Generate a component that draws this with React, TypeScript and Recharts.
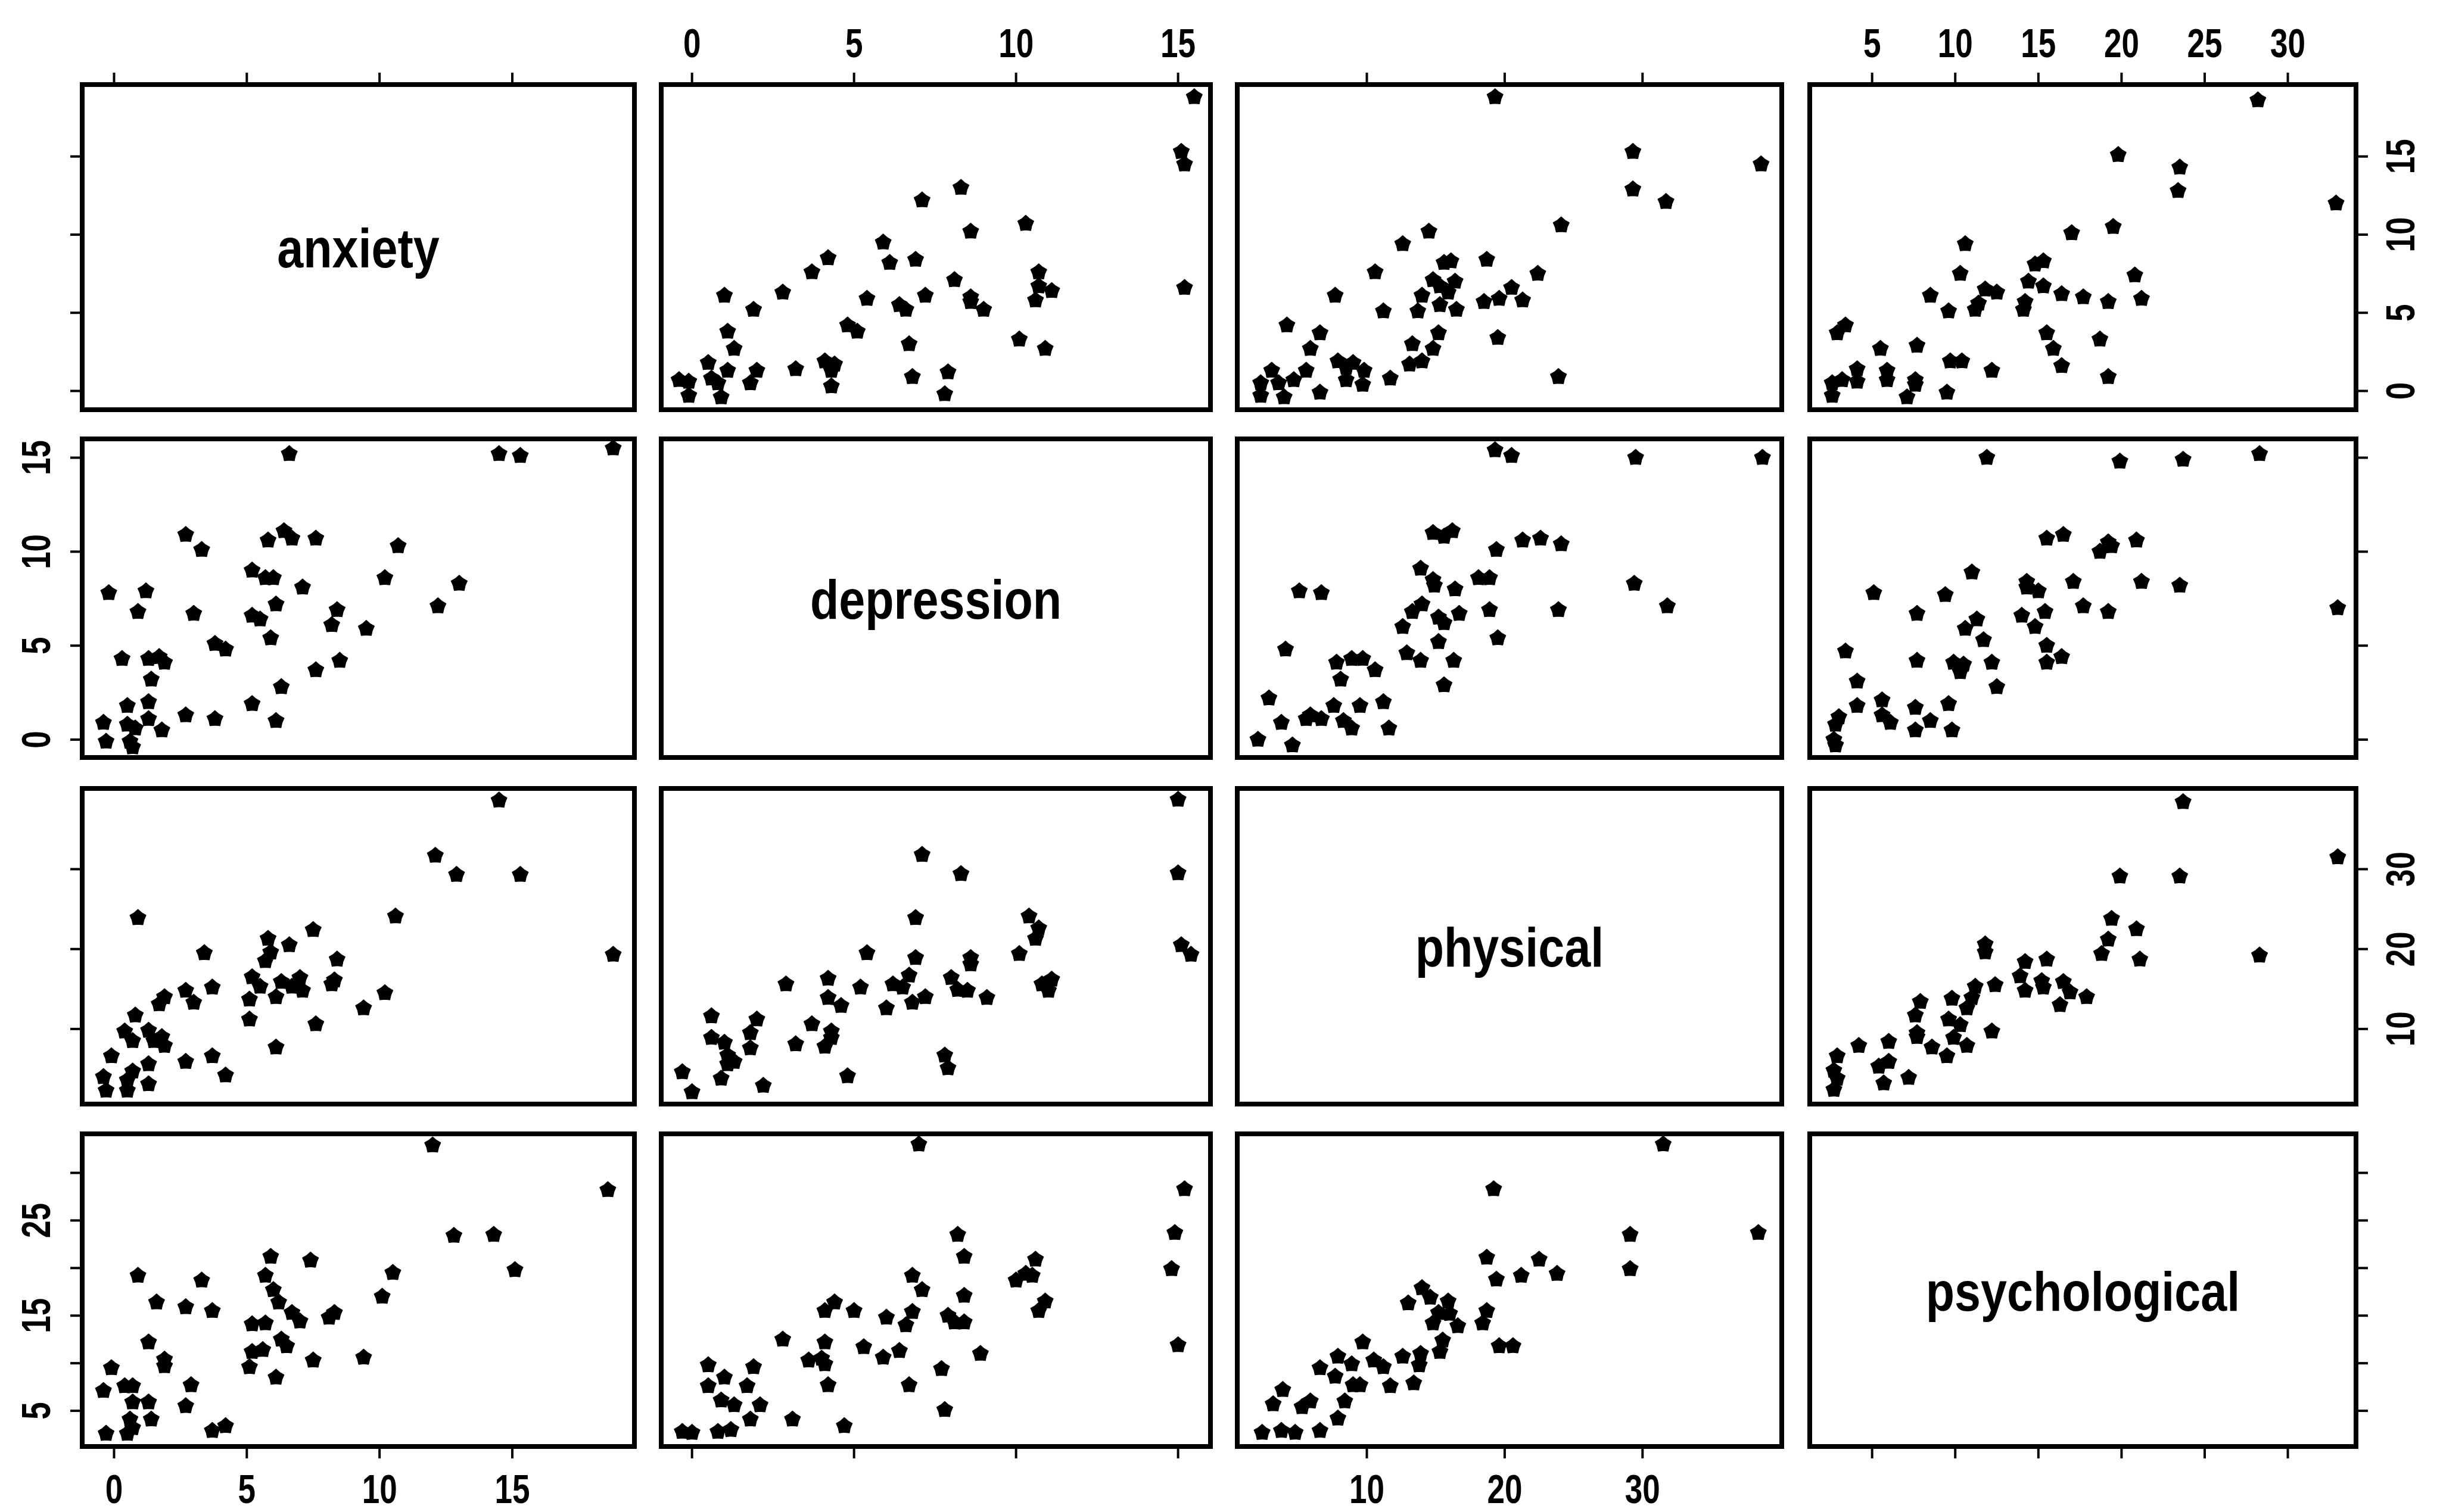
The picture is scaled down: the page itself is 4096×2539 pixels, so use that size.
import { ScatterChart, Scatter, XAxis, YAxis, ReferenceArea } from "recharts";

// variable order: anxiety, depression, physical, psychological
const variableNames = ["anxiety", "depression", "physical", "psychological"];
const axisDomains: [number, number][] = [
  [-1.2, 19.6],
  [-0.95, 16.0],
  [0.6, 40.1],
  [1.25, 34.1],
];
const axisTicks = [
  [0, 5, 10, 15],
  [0, 5, 10, 15],
  [10, 20, 30],
  [5, 10, 15, 20, 25, 30],
];

// which tick values get a printed label on each outer side (indexed by column / row)
const topTickLabels = [[], [0, 5, 10, 15], [], [5, 10, 15, 20, 25, 30]];
const bottomTickLabels = [[0, 5, 10, 15], [], [10, 20, 30], []];
const leftTickLabels = [[], [0, 5, 10, 15], [], [5, 15, 25]];
const rightTickLabels = [[0, 5, 10, 15], [], [10, 20, 30], []];

// [anxiety, depression]
const anxietyDepression: [number, number][] = [
  [6.6, 15.2], [14.5, 15.2], [15.3, 15.1], [18.8, 15.5], [2.7, 10.9], [3.3, 10.1],
  [6.4, 11.1], [6.7, 10.7], [5.8, 10.6], [7.6, 10.7], [10.7, 10.3], [5.2, 9.0],
  [5.7, 8.6], [6.0, 8.6], [7.1, 8.1], [10.2, 8.6], [13.0, 8.3], [-0.2, 7.8],
  [1.2, 7.9], [0.9, 6.8], [3.0, 6.7], [6.1, 7.2], [5.2, 6.6], [5.5, 6.4],
  [8.4, 6.9], [8.2, 6.1], [9.5, 5.9], [12.2, 7.1], [5.9, 5.4], [3.8, 5.1],
  [4.2, 4.8], [0.3, 4.3], [1.3, 4.3], [1.7, 4.4], [1.9, 4.1], [7.6, 3.7],
  [8.5, 4.2], [1.4, 3.2], [6.3, 2.8], [1.3, 2.0], [0.5, 1.8], [5.2, 1.9],
  [2.7, 1.3], [3.8, 1.1], [6.1, 1.0], [1.3, 1.1], [-0.4, 0.9], [0.5, 0.8],
  [0.8, 0.6], [1.8, 0.5], [-0.3, -0.1], [0.6, -0.1], [0.7, -0.4],
];

// [anxiety, physical]
const anxietyPhysical: [number, number][] = [
  [14.5, 38.6], [12.1, 31.7], [12.9, 29.3], [15.3, 29.3], [0.9, 23.9], [10.6, 24.1],
  [7.5, 22.4], [5.8, 21.3], [6.6, 20.5], [3.4, 19.5], [5.9, 19.6], [5.7, 18.5],
  [18.8, 19.3], [8.4, 18.7], [5.2, 16.5], [5.5, 15.3], [6.3, 15.9], [7.0, 16.4],
  [6.7, 15.3], [7.1, 14.8], [8.3, 16.1], [8.2, 15.6], [3.7, 15.2], [2.7, 14.8],
  [3.0, 13.3], [1.9, 14.0], [1.7, 13.1], [5.1, 13.7], [6.1, 14.0], [10.2, 14.5],
  [9.4, 12.6], [5.1, 11.2], [7.6, 10.6], [0.8, 11.7], [0.4, 9.7], [0.7, 8.5],
  [1.3, 9.8], [1.5, 8.5], [1.8, 9.0], [1.9, 7.9], [6.1, 7.7], [-0.1, 6.6],
  [2.7, 5.9], [3.7, 6.6], [1.3, 5.6], [0.7, 4.7], [4.2, 4.2], [-0.4, 4.0],
  [1.3, 3.1], [-0.3, 2.3], [0.5, 2.3], [0.5, 3.6],
];

// [anxiety, psychological]
const anxietyPsychological: [number, number][] = [
  [12.0, 32.9], [18.6, 28.2], [12.8, 23.4], [14.3, 23.5], [15.1, 19.8], [10.5, 19.5],
  [5.9, 21.2], [7.4, 20.8], [5.7, 19.2], [0.9, 19.2], [3.3, 18.7], [6.0, 17.7],
  [6.2, 16.4], [10.1, 17.0], [1.6, 16.4], [2.7, 15.9], [3.7, 15.5], [6.7, 15.3],
  [7.0, 14.4], [8.3, 15.3], [8.1, 14.8], [5.2, 14.1], [5.7, 14.2], [1.3, 12.2],
  [6.3, 12.5], [6.5, 11.8], [5.2, 11.2], [5.6, 11.4], [1.9, 10.4], [1.9, 9.7],
  [7.5, 10.3], [9.4, 10.6], [5.1, 9.6], [-0.1, 9.5], [6.1, 8.5], [0.4, 7.6],
  [0.7, 7.6], [-0.4, 7.1], [2.9, 7.7], [0.7, 5.9], [1.3, 5.9], [2.7, 5.5],
  [1.4, 4.1], [0.6, 4.1], [4.2, 3.4], [3.7, 2.9], [-0.3, 2.6], [0.5, 2.6], [0.7, 3.2],
];

// [depression, physical]
const depressionPhysical: [number, number][] = [
  [15.0, 38.7], [7.1, 31.8], [8.3, 29.4], [15.0, 29.5], [6.9, 23.9], [10.4, 24.1],
  [10.7, 22.6], [10.6, 21.3], [15.1, 20.5], [15.4, 19.3], [10.1, 19.4], [5.4, 19.5],
  [6.9, 18.9], [8.6, 18.9], [8.6, 18.1], [4.2, 16.3], [2.9, 15.6], [5.2, 15.2],
  [6.7, 16.7], [6.2, 15.6], [6.5, 15.2], [8.0, 16.4], [8.2, 14.9], [8.5, 14.8],
  [10.8, 15.6], [11.1, 16.2], [11.0, 14.8], [4.2, 13.9], [4.6, 12.9], [7.2, 14.0],
  [6.8, 13.3], [9.1, 13.9], [6.0, 12.6], [0.6, 11.6], [2.0, 11.2], [3.7, 10.6],
  [1.8, 9.5], [4.3, 9.7], [4.3, 8.9], [4.1, 7.8], [0.6, 8.9], [1.0, 8.3],
  [1.8, 7.6], [3.2, 8.1], [1.1, 6.7], [1.3, 5.9], [1.1, 5.6], [0.9, 3.8],
  [-0.3, 4.6], [2.2, 2.9], [4.8, 4.1], [7.8, 6.7], [7.9, 5.1], [0.0, 2.1],
];

// [depression, psychological]
const depressionPsychological: [number, number][] = [
  [7.0, 33.0], [15.2, 28.3], [14.9, 23.7], [14.8, 19.9], [15.0, 11.9], [8.2, 23.5],
  [8.4, 21.2], [10.6, 20.9], [10.3, 19.4], [10.5, 19.2], [10.0, 18.7], [6.8, 19.2],
  [7.1, 17.7], [8.4, 17.1], [10.9, 16.5], [10.7, 15.5], [4.4, 16.4], [4.1, 15.5],
  [5.0, 15.5], [6.8, 15.4], [6.0, 14.8], [6.6, 14.0], [7.9, 15.0], [8.1, 14.3],
  [8.4, 14.3], [2.8, 12.5], [4.1, 12.2], [5.3, 11.7], [6.4, 11.3], [5.9, 10.6],
  [8.9, 11.0], [3.6, 10.3], [4.0, 10.5], [4.1, 9.9], [0.5, 9.8], [1.9, 9.6],
  [7.7, 9.4], [1.0, 8.5], [0.5, 7.6], [1.7, 7.6], [4.2, 7.7], [6.7, 7.7],
  [0.9, 6.1], [1.3, 5.6], [2.1, 5.6], [7.8, 5.1], [1.8, 4.1], [3.1, 4.1],
  [4.7, 3.4], [-0.3, 2.8], [0.0, 2.7], [0.8, 2.8], [1.2, 3.0],
];

// [physical, psychological]
const physicalPsychological: [number, number][] = [
  [31.5, 33.0], [19.2, 28.3], [29.1, 23.5], [38.4, 23.7], [29.1, 19.9], [18.7, 21.1],
  [22.5, 20.9], [21.2, 19.2], [23.8, 19.4], [19.4, 18.8], [14.0, 17.9], [14.6, 16.9],
  [13.0, 16.3], [15.9, 16.5], [15.2, 15.3], [16.0, 15.2], [14.8, 14.2], [16.6, 13.9],
  [18.7, 15.5], [18.4, 14.2], [9.7, 12.2], [15.5, 12.4], [15.3, 11.2], [19.6, 11.8],
  [20.6, 11.8], [7.9, 10.7], [10.5, 10.3], [11.2, 9.6], [8.9, 9.9], [12.6, 10.7],
  [13.9, 11.0], [13.8, 9.8], [6.6, 9.5], [7.7, 8.6], [9.0, 7.7], [9.5, 7.7],
  [11.7, 7.6], [13.4, 7.9], [3.9, 7.2], [3.2, 5.7], [5.3, 5.4], [5.9, 6.0],
  [8.4, 6.0], [7.9, 4.2], [2.4, 2.7], [3.8, 2.9], [4.8, 2.7], [6.6, 2.9],
];

// pair arrays keyed by "lowerIndex-higherIndex"; first value belongs to the lower index
const pairLookup: Record<string, [number, number][]> = {
  "0-1": anxietyDepression,
  "0-2": anxietyPhysical,
  "0-3": anxietyPsychological,
  "1-2": depressionPhysical,
  "1-3": depressionPsychological,
  "2-3": physicalPsychological,
};

const FONT = '"Liberation Sans", Arial, Helvetica, sans-serif';
const MARGIN = 140;
const AXIS_SPACE = 60;
const colLeft = [138, 1110, 2077, 3038];
const colWidth = [927, 922, 914, 917];
const rowTop = [142, 737, 1324, 1904];
const rowHeight = [546, 535, 530, 525];

function panelPoints(row: number, col: number) {
  if (col < row) return pairLookup[`${col}-${row}`].map(([a, b]) => ({ x: a, y: b }));
  return pairLookup[`${row}-${col}`].map(([a, b]) => ({ x: b, y: a }));
}

function starPath(cx: number, cy: number, outer: number, inner: number) {
  let d = "";
  for (let k = 0; k < 10; k++) {
    const rad = k % 2 === 0 ? outer : inner;
    const a = -Math.PI / 2 + (k * Math.PI) / 5;
    d += (k === 0 ? "M" : "L") + (cx + rad * Math.cos(a)).toFixed(1) + "," + (cy + rad * Math.sin(a)).toFixed(1);
  }
  return d + "Z";
}

// chunky five-point star, nearly a pentagon
const StarMark = (props: any) => {
  const { cx, cy } = props;
  if (cx == null || cy == null) return <g />;
  return <path d={starPath(cx, cy, 14, 10.5)} fill="#000" stroke="#000" strokeWidth={1.5} strokeLinejoin="round" />;
};

// tick label placed at a fixed distance from the panel frame
const AxisTick = (props: any) => {
  const { x, y, payload, side, labels, w, h } = props;
  if (!labels || !labels.includes(payload.value)) return <g />;
  const common = {
    textAnchor: "middle" as const,
    fontFamily: FONT,
    fontWeight: 700,
    fontSize: 68,
    fill: "#000",
  };
  if (side === "top" || side === "bottom") {
    const by = side === "top" ? MARGIN - 46 : MARGIN + h + 95;
    return (
      <text {...common} transform={`translate(${x},${by}) scale(0.78,1)`}>
        {payload.value}
      </text>
    );
  }
  const cx = side === "left" ? MARGIN - 77 : MARGIN + w + 75;
  return (
    <text {...common} dominantBaseline="central" transform={`translate(${cx},${y}) rotate(-90) scale(0.78,1)`}>
      {payload.value}
    </text>
  );
};

const DiagonalName = (props: any) => {
  const { viewBox, name } = props;
  if (!viewBox) return null;
  const cx = viewBox.x + viewBox.width / 2;
  const cy = viewBox.y + viewBox.height / 2;
  return (
    <text
      textAnchor="middle"
      fontFamily={FONT}
      fontWeight={700}
      fontSize={92}
      fill="#000"
      transform={`translate(${cx},${cy + 34}) scale(0.86,1)`}
    >
      {name}
    </text>
  );
};

function Panel({ row, col }: { row: number; col: number }) {
  const w = colWidth[col];
  const h = rowHeight[row];
  const xDom = axisDomains[col];
  const yDom = axisDomains[row];
  const diag = row === col;
  const data = diag ? [] : panelPoints(row, col);
  const xSide = row === 0 ? "top" : row === 3 ? "bottom" : null;
  const ySide = col === 0 ? "left" : col === 3 ? "right" : null;
  const xLabels = row === 0 ? topTickLabels[col] : row === 3 ? bottomTickLabels[col] : [];
  const yLabels = col === 0 ? leftTickLabels[row] : col === 3 ? rightTickLabels[row] : [];

  return (
    <div style={{ position: "absolute", left: colLeft[col] - MARGIN, top: rowTop[row] - MARGIN }}>
      <ScatterChart
        width={w + 2 * MARGIN}
        height={h + 2 * MARGIN}
        margin={{
          top: MARGIN - (xSide === "top" ? AXIS_SPACE : 0),
          bottom: MARGIN - (xSide === "bottom" ? AXIS_SPACE : 0),
          left: MARGIN - (ySide === "left" ? AXIS_SPACE : 0),
          right: MARGIN - (ySide === "right" ? AXIS_SPACE : 0),
        }}
      >
        <XAxis
          type="number"
          dataKey="x"
          domain={xDom}
          allowDataOverflow
          ticks={axisTicks[col]}
          interval={0}
          orientation={xSide === "top" ? "top" : "bottom"}
          hide={!xSide}
          height={AXIS_SPACE}
          axisLine={false}
          stroke="#000"
          tickSize={20}
          tickLine={{ stroke: "#000", strokeWidth: 4 }}
          tick={<AxisTick side={xSide} labels={xLabels} w={w} h={h} />}
        />
        <YAxis
          type="number"
          dataKey="y"
          domain={yDom}
          allowDataOverflow
          ticks={axisTicks[row]}
          interval={0}
          orientation={ySide === "right" ? "right" : "left"}
          hide={!ySide}
          width={AXIS_SPACE}
          axisLine={false}
          stroke="#000"
          tickSize={20}
          tickLine={{ stroke: "#000", strokeWidth: 4 }}
          tick={<AxisTick side={ySide} labels={yLabels} w={w} h={h} />}
        />
        <ReferenceArea
          x1={xDom[0]}
          x2={xDom[1]}
          y1={yDom[0]}
          y2={yDom[1]}
          fill="none"
          stroke="#000"
          strokeWidth={8}
          label={diag ? <DiagonalName name={variableNames[row]} /> : undefined}
        />
        <Scatter data={data} isAnimationActive={false} shape={<StarMark />} />
      </ScatterChart>
    </div>
  );
}

export default function App() {
  const cells: { row: number; col: number }[] = [];
  for (let r = 0; r < 4; r++) for (let c = 0; c < 4; c++) cells.push({ row: r, col: c });
  return (
    <div
      style={{
        position: "absolute",
        left: 0,
        top: 0,
        width: 4096,
        height: 2539,
        background: "#fff",
        overflow: "hidden",
      }}
    >
      {cells.map(({ row, col }) => (
        <Panel key={`${row}-${col}`} row={row} col={col} />
      ))}
    </div>
  );
}
